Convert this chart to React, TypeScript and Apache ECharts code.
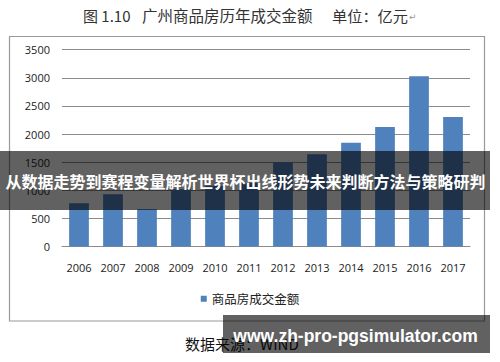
import React, { useEffect, useRef } from "react";
import * as echarts from "echarts";

const years = ["2006", "2007", "2008", "2009", "2010", "2011", "2012", "2013", "2014", "2015", "2016", "2017"];
const amounts = [770, 930, 665, 1020, 1080, 1130, 1500, 1640, 1847, 2126, 3028, 2304];
const seriesName = "商品房成交金额";
const yTicks = { min: 0, max: 3500, interval: 500 };
const bannerText = "从数据走势到赛程变量解析世界杯出线形势未来判断方法与策略研判";
const watermarkText = "www.zh-pro-pgsimulator.com";

export default function App() {
  const ref = useRef<HTMLDivElement>(null);
  useEffect(() => {
    if (!ref.current) return;
    const chart = echarts.init(ref.current, null, { renderer: "svg" });
    const cjk = '"Noto Sans CJK SC", "Noto Sans", sans-serif';
    chart.setOption({
      animation: false,
      backgroundColor: "#ffffff",
      grid: { left: 62, right: 30, top: 49.7, height: 196.8, containLabel: false },
      legend: {
        show: true,
        bottom: 52,
        left: "center",
        itemWidth: 6,
        itemHeight: 6,
        itemGap: 4,
        icon: "rect",
        textStyle: { fontFamily: cjk, fontSize: 12.5, color: "#222" },
        data: [seriesName],
      },
      xAxis: {
        type: "category",
        data: years,
        axisLine: { lineStyle: { color: "#8c8c8c", width: 1 } },
        axisTick: { show: false },
        axisLabel: { fontFamily: '"Open Sans", sans-serif', fontSize: 11, color: "#222", margin: 15 },
      },
      yAxis: {
        type: "value",
        min: yTicks.min,
        max: yTicks.max,
        interval: yTicks.interval,
        axisLine: { show: false },
        axisTick: { show: false },
        splitLine: { lineStyle: { color: "#8c8c8c", width: 1 } },
        axisLabel: {
          fontFamily: '"Open Sans", sans-serif',
          fontSize: 11,
          color: "#222",
          margin: 12,
          formatter: (v: number) => String(v),
        },
      },
      series: [
        {
          name: seriesName,
          type: "bar",
          data: amounts,
          barWidth: "58%",
          itemStyle: { color: "#4F81BD" },
        },
      ],
      graphic: [
        {
          type: "rect",
          z: -1,
          shape: { x: 9.5, y: 36.5, width: 475, height: 284.5 },
          style: { fill: "none", stroke: "#9a9a9a", lineWidth: 1.2 },
        },
        {
          type: "text",
          x: 83,
          y: 15,
          style: { text: "图 1.10", font: `15px ${cjk}`, fill: "#333", verticalAlign: "middle" },
        },
        {
          type: "text",
          x: 142,
          y: 15,
          style: { text: "广州商品房历年成交金额", font: `15.5px ${cjk}`, fill: "#333", verticalAlign: "middle" },
        },
        {
          type: "text",
          x: 332,
          y: 15,
          style: { text: "单位：亿元", font: `15.2px ${cjk}`, fill: "#333", verticalAlign: "middle" },
        },
        {
          type: "text",
          x: 409,
          y: 17,
          style: { text: "↵", font: `9px "DejaVu Sans"`, fill: "#999", verticalAlign: "middle" },
        },
        {
          type: "text",
          x: 185,
          y: 343,
          style: { text: "数据来源：WIND", font: `15px ${cjk}`, fill: "#111", verticalAlign: "middle" },
        },
        {
          type: "rect",
          z: 100,
          shape: { x: 0, y: 151, width: 490, height: 59 },
          style: { fill: "rgba(0,0,0,0.62)" },
        },
        {
          type: "text",
          z: 101,
          x: 245.5,
          y: 181,
          style: {
            text: bannerText,
            font: `bold 16px ${cjk}`,
            fill: "#ffffff",
            align: "center",
            verticalAlign: "middle",
          },
        },
        {
          type: "rect",
          z: 100,
          shape: { x: 223, y: 315, width: 267, height: 38 },
          style: { fill: "rgba(0,0,0,0.62)" },
        },
        {
          type: "text",
          z: 101,
          x: 355.5,
          y: 336,
          style: {
            text: watermarkText,
            font: `bold 17.5px "Liberation Sans", sans-serif`,
            fill: "#ffffff",
            align: "center",
            verticalAlign: "middle",
          },
        },
      ],
    });
    return () => chart.dispose();
  }, []);
  return <div ref={ref} style={{ position: "absolute", left: 0, top: 0, width: 500, height: 362 }} />;
}
